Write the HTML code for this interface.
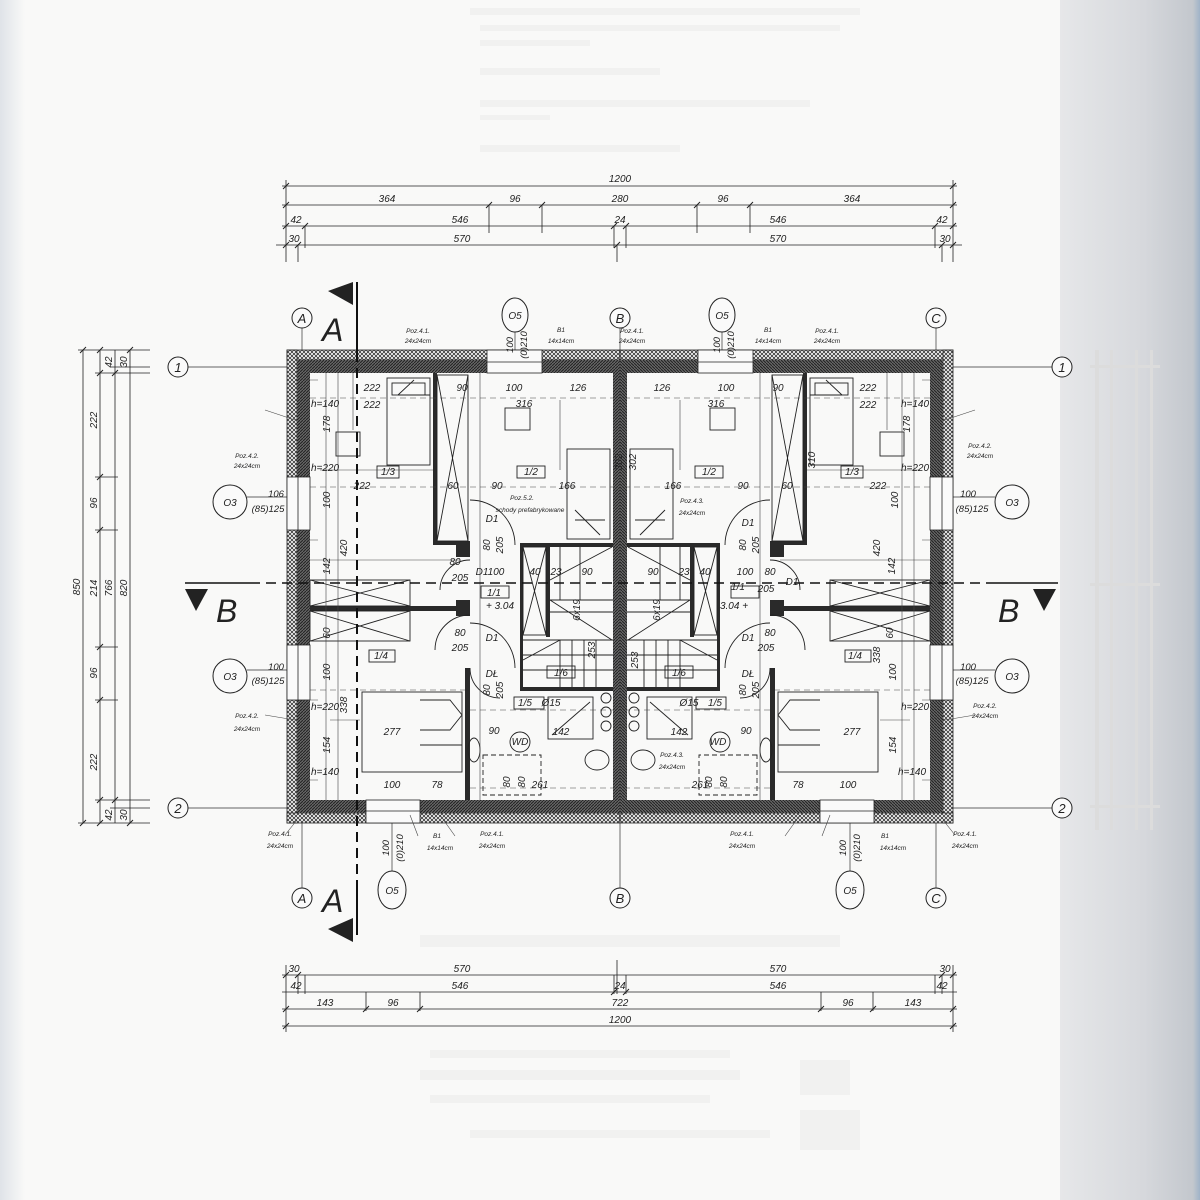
<!DOCTYPE html>
<html><head><meta charset="utf-8">
<style>
html,body{margin:0;padding:0;width:1200px;height:1200px;overflow:hidden;background:#f9f9f8;}
svg{display:block}
text{font-family:"Liberation Sans",sans-serif;font-style:italic;fill:#222}
</style></head><body>
<svg width="1200" height="1200" viewBox="0 0 1200 1200" xmlns="http://www.w3.org/2000/svg">
<defs>
<linearGradient id="side" x1="0" x2="1" y1="0" y2="0">
<stop offset="0" stop-color="#e6e7e9"/><stop offset="0.6" stop-color="#d6d8dc"/><stop offset="0.95" stop-color="#c3c7cd"/><stop offset="1" stop-color="#9fb3c8"/>
</linearGradient>
<linearGradient id="lside" x1="0" x2="1"><stop offset="0" stop-color="#dfe3e8"/><stop offset="1" stop-color="#f9f9f8"/></linearGradient>
<pattern id="ins" width="4" height="4" patternUnits="userSpaceOnUse">
<rect width="4" height="4" fill="#fff"/><path d="M0 0L4 4M4 0L0 4" stroke="#333" stroke-width="0.8"/>
</pattern>
<pattern id="mas" width="3" height="3" patternUnits="userSpaceOnUse">
<rect width="3" height="3" fill="#666"/><path d="M0 3L3 0" stroke="#222" stroke-width="1"/>
</pattern>
<g id="L">
 <rect x="287" y="350" width="333" height="10" fill="url(#ins)" stroke="#222" stroke-width="0.8"/>
 <rect x="287" y="350" width="10" height="473" fill="url(#ins)" stroke="#222" stroke-width="0.8"/>
 <rect x="287" y="813" width="333" height="10" fill="url(#ins)" stroke="#222" stroke-width="0.8"/>
 <rect x="297" y="360" width="323" height="13" fill="url(#mas)"/>
 <rect x="297" y="360" width="13" height="453" fill="url(#mas)"/>
 <rect x="297" y="800" width="323" height="13" fill="url(#mas)"/>
 <rect x="613" y="360" width="7" height="453" fill="url(#mas)"/>
 <rect x="487" y="350" width="55" height="23" fill="#fafafa" stroke="#222" stroke-width="0.8"/>
 <line x1="487" y1="362" x2="542" y2="362" stroke="#222" stroke-width="0.8"/>
 <rect x="366" y="800" width="54" height="23" fill="#fafafa" stroke="#222" stroke-width="0.8"/>
 <line x1="366" y1="811" x2="420" y2="811" stroke="#222" stroke-width="0.8"/>
 <rect x="287" y="477" width="23" height="53" fill="#fafafa" stroke="#222" stroke-width="0.8"/>
 <line x1="298" y1="477" x2="298" y2="530" stroke="#222" stroke-width="0.8"/>
 <rect x="287" y="645" width="23" height="55" fill="#fafafa" stroke="#222" stroke-width="0.8"/>
 <line x1="298" y1="645" x2="298" y2="700" stroke="#222" stroke-width="0.8"/>
 <g fill="#2a2a2a">
  <rect x="433" y="373" width="4" height="172"/>
  <rect x="433" y="541" width="37" height="4"/>
  <rect x="456" y="545" width="14" height="12"/>
  <rect x="310" y="606" width="155" height="5"/>
  <rect x="456" y="600" width="14" height="16"/>
  <rect x="465" y="668" width="5" height="132"/>
  <rect x="520" y="543" width="93" height="4"/>
  <rect x="546" y="547" width="4" height="90"/>
  <rect x="520" y="547" width="3" height="144"/>
  <rect x="520" y="687" width="93" height="4"/>
 </g>
 <g fill="none" stroke="#222" stroke-width="0.9">
  <rect x="437" y="375" width="31" height="166"/><path d="M437 375L468 541M468 375L437 541"/>
  <rect x="523" y="547" width="23" height="88"/><path d="M523 547L546 635M546 547L523 635"/>
  <rect x="310" y="580" width="100" height="26"/><path d="M310 580L410 606M410 580L310 606"/>
  <rect x="310" y="611" width="100" height="30"/><path d="M310 611L410 641M410 611L310 641"/>
  <path d="M550 600H613M550 612H613M523 640H613M523 655H613M523 670H613"/>
  <path d="M560 640V687M572 640V687M584 640V687M596 640V687M560 547V600M580 547V600"/>
  <path d="M550 580L612 547M550 600L612 640M523 660L560 640"/>
  <rect x="387" y="378" width="43" height="87"/><path d="M398 395L414 380M398 395H430"/>
  <rect x="392" y="383" width="33" height="12"/>
  <rect x="362" y="692" width="100" height="80"/><path d="M420 700L450 700L462 715L450 730L420 730M420 745H462"/>
  <rect x="336" y="432" width="24" height="24"/>
  <rect x="505" y="408" width="25" height="22"/>
  <rect x="567" y="449" width="43" height="90"/><path d="M575 510L600 535M575 520H605"/>
  <rect x="548" y="697" width="45" height="42"/><path d="M552 735L590 702"/>
  <ellipse cx="597" cy="760" rx="12" ry="10"/>
  <ellipse cx="474" cy="750" rx="6" ry="12"/>
  <circle cx="520" cy="742" r="10"/>
  <circle cx="606" cy="698" r="5"/><circle cx="606" cy="712" r="5"/><circle cx="606" cy="726" r="5"/>
  <rect x="483" y="755" width="58" height="40" stroke-dasharray="5 3"/>
  <path d="M470 500A45 45 0 0 1 515 545"/>
  <path d="M470 560A30 30 0 0 0 440 590"/>
  <path d="M470 615A35 35 0 0 0 435 650"/>
  <path d="M470 623A45 45 0 0 1 515 668"/>
  <path d="M470 668A30 30 0 0 0 500 698"/>
  <rect x="377" y="466" width="22" height="12"/>
  <rect x="517" y="466" width="28" height="12"/>
  <rect x="481" y="586" width="28" height="12"/>
  <rect x="369" y="650" width="26" height="12"/>
  <rect x="547" y="666" width="28" height="12"/>
  <rect x="514" y="697" width="30" height="12"/>
 </g>
 <g stroke="#444" stroke-width="0.6" fill="none">
  <path d="M310 398H613M310 487H613M310 690H465M470 710H613M470 788H613" stroke-dasharray="6 4"/>
  <path d="M310 560H460M326 373V800M338 373V800M353 373V430M480 373V800M560 400V470M320 470H433M330 720H360M304 380H318M304 540H318M304 700H318M304 780H318"/>
  <path d="M295 420L265 410M295 720L265 715M297 820L285 835M410 815L418 836M440 815L455 836"/>
 </g>
</g>
</defs>

<rect x="0" y="0" width="25" height="1200" fill="url(#lside)"/>
<rect x="1060" y="0" width="140" height="1200" fill="url(#side)"/>

<g fill="#f1f1f0">
 <rect x="470" y="8" width="390" height="7"/><rect x="480" y="25" width="360" height="6"/><rect x="480" y="40" width="110" height="6"/>
 <rect x="480" y="68" width="180" height="7"/><rect x="480" y="100" width="330" height="7"/><rect x="480" y="115" width="70" height="5"/>
 <rect x="480" y="145" width="200" height="7"/>
 <rect x="420" y="935" width="420" height="12"/><rect x="430" y="1050" width="300" height="8"/><rect x="420" y="1070" width="320" height="10"/>
 <rect x="430" y="1095" width="280" height="8"/><rect x="470" y="1130" width="300" height="8"/><rect x="800" y="1060" width="50" height="35"/>
 <rect x="800" y="1110" width="60" height="40"/>
</g>
<g fill="#dcdcdc"><rect x="1095" y="350" width="4" height="480"/><rect x="1110" y="350" width="3" height="480"/><rect x="1135" y="350" width="3" height="480"/><rect x="1150" y="350" width="3" height="480"/>
<rect x="1090" y="365" width="70" height="3"/><rect x="1090" y="805" width="70" height="3"/><rect x="1090" y="583" width="70" height="3"/></g>

<g stroke="#333" stroke-width="0.7" fill="none">
 <path d="M188 367H300M940 367H1052M188 808H300M940 808H1052"/>
 <path d="M302 328V370M620 328V370M936 328V370M302 823V888M620 823V888M936 823V888"/>
 <path d="M515 332V352M722 332V352M392 823V873M850 823V873"/>
 <path d="M247 497H287M247 670H287M953 497H995M953 670H995"/>
</g>
<g fill="#fafafa" stroke="#222" stroke-width="1">
 <circle cx="178" cy="367" r="10"/><circle cx="1062" cy="367" r="10"/>
 <circle cx="178" cy="808" r="10"/><circle cx="1062" cy="808" r="10"/>
 <circle cx="302" cy="318" r="10"/><circle cx="620" cy="318" r="10"/><circle cx="936" cy="318" r="10"/>
 <circle cx="302" cy="898" r="10"/><circle cx="620" cy="898" r="10"/><circle cx="936" cy="898" r="10"/>
 <ellipse cx="515" cy="315" rx="13" ry="17"/><ellipse cx="722" cy="315" rx="13" ry="17"/>
 <ellipse cx="392" cy="890" rx="14" ry="19"/><ellipse cx="850" cy="890" rx="14" ry="19"/>
 <circle cx="230" cy="502" r="17"/><circle cx="1012" cy="502" r="17"/>
 <circle cx="230" cy="676" r="17"/><circle cx="1012" cy="676" r="17"/>
</g>
<g font-size="13" text-anchor="middle" style="font-style:normal">
 <text x="178" y="372">1</text><text x="1062" y="372">1</text><text x="178" y="813">2</text><text x="1062" y="813">2</text>
 <text x="302" y="323">A</text><text x="620" y="323">B</text><text x="936" y="323">C</text>
 <text x="302" y="903">A</text><text x="620" y="903">B</text><text x="936" y="903">C</text>
</g>
<g font-size="10" text-anchor="middle">
 <text x="515" y="319">O5</text><text x="722" y="319">O5</text><text x="392" y="894">O5</text><text x="850" y="894">O5</text>
 <text x="230" y="506">O3</text><text x="1012" y="506">O3</text><text x="230" y="680">O3</text><text x="1012" y="680">O3</text>
</g>

<use href="#L"/>
<use href="#L" transform="translate(1240,0) scale(-1,1)"/>

<g stroke="#111" fill="none">
 <path d="M357 282V352" stroke-width="2"/><path d="M357 352V880" stroke-width="2" stroke-dasharray="10 6"/><path d="M357 880V935" stroke-width="2"/>
 <path d="M185 583H250" stroke-width="1.5"/><path d="M250 583H990" stroke-width="1.5" stroke-dasharray="10 6"/><path d="M990 583H1058" stroke-width="1.5"/>
</g>
<g fill="#222">
 <polygon points="328,291 353,282 353,305"/><polygon points="328,929 353,918 353,942"/>
 <polygon points="185,589 208,589 196,611"/><polygon points="1033,589 1056,589 1044,611"/>
</g>
<g font-size="32" style="font-style:italic">
 <text x="322" y="341">A</text><text x="322" y="912">A</text>
 <text x="216" y="622">B</text><text x="998" y="622">B</text>
</g>

<g stroke="#222" stroke-width="0.8" fill="none">
 <path d="M282 186H957M282 205H957M282 226H957M276 245H962"/>
 <path d="M286 180V262M953 180V262M489 205V233M542 205V233M697 205V233M750 205V233M305 226V248M614 226V248M626 226V248M935 226V248M617 245V262M298 245V262M942 245V262"/>
 <path d="M282 975H957M282 992H957M282 1009H957M282 1026H957"/>
 <path d="M286 965V1032M953 965V1032M298 975V994M942 975V994M305 975V994M935 975V994M614 975V994M626 975V994M617 960V994M366 992V1011M420 992V1011M821 992V1011M873 992V1011"/>
 <path d="M83 350V823M100 350V823M115 350V823M130 350V823M78 350H150M78 823H150M95 373H150M95 800H150M95 477H118M95 530H118M95 647H118M95 700H118M110 367H150M110 808H150"/>
</g>
<g stroke="#222" stroke-width="1">
 <path d="M283 189L289 183M950 189L956 183M486 208L492 202M539 208L545 202M694 208L700 202M747 208L753 202M283 208L289 202M950 208L956 202M302 229L308 223M611 229L617 223M623 229L629 223M932 229L938 223M283 229L289 223M950 229L956 223M295 248L301 242M614 248L620 242M939 248L945 242M283 248L289 242M950 248L956 242"/>
 <path d="M283 978L289 972M950 978L956 972M283 1029L289 1023M950 1029L956 1023M363 1012L369 1006M417 1012L423 1006M818 1012L824 1006M870 1012L876 1006M283 1012L289 1006M950 1012L956 1006M611 995L617 989M623 995L629 989M295 978L301 972M939 978L945 972"/>
 <path d="M80 353L86 347M80 826L86 820M97 353L103 347M97 826L103 820M97 376L103 370M97 480L103 474M97 533L103 527M97 650L103 644M97 703L103 697M97 803L103 797M112 376L118 370M112 803L118 797M127 353L133 347M127 826L133 820"/>
</g>
<g font-size="10" text-anchor="middle">
 <text x="620" y="182">1200</text>
 <text x="387" y="202">364</text><text x="515" y="202">96</text><text x="620" y="202">280</text><text x="723" y="202">96</text><text x="852" y="202">364</text>
 <text x="296" y="223">42</text><text x="460" y="223">546</text><text x="620" y="223">24</text><text x="778" y="223">546</text><text x="942" y="223">42</text>
 <text x="294" y="242">30</text><text x="462" y="242">570</text><text x="778" y="242">570</text><text x="945" y="242">30</text>
 <text x="294" y="972">30</text><text x="462" y="972">570</text><text x="778" y="972">570</text><text x="945" y="972">30</text>
 <text x="296" y="989">42</text><text x="460" y="989">546</text><text x="620" y="989">24</text><text x="778" y="989">546</text><text x="942" y="989">42</text>
 <text x="325" y="1006">143</text><text x="393" y="1006">96</text><text x="620" y="1006">722</text><text x="848" y="1006">96</text><text x="913" y="1006">143</text>
 <text x="620" y="1023">1200</text>
</g>
<g font-size="10" text-anchor="middle">
 <text transform="translate(80,587) rotate(-90)">850</text>
 <text transform="translate(97,420) rotate(-90)">222</text><text transform="translate(97,503) rotate(-90)">96</text>
 <text transform="translate(97,588) rotate(-90)">214</text><text transform="translate(97,673) rotate(-90)">96</text><text transform="translate(97,762) rotate(-90)">222</text>
 <text transform="translate(112,588) rotate(-90)">766</text><text transform="translate(127,588) rotate(-90)">820</text>
 <text transform="translate(112,362) rotate(-90)">42</text><text transform="translate(127,362) rotate(-90)">30</text>
 <text transform="translate(112,815) rotate(-90)">42</text><text transform="translate(127,815) rotate(-90)">30</text>
</g>

<g font-size="6.5" text-anchor="middle">
 <text x="418" y="333">Poz.4.1.</text><text x="418" y="343">24x24cm</text>
 <text x="632" y="333">Poz.4.1.</text><text x="632" y="343">24x24cm</text>
 <text x="827" y="333">Poz.4.1.</text><text x="827" y="343">24x24cm</text>
 <text x="561" y="332">B1</text><text x="561" y="343">14x14cm</text>
 <text x="768" y="332">B1</text><text x="768" y="343">14x14cm</text>
 <text x="247" y="458">Poz.4.2.</text><text x="247" y="468">24x24cm</text>
 <text x="247" y="718">Poz.4.2.</text><text x="247" y="731">24x24cm</text>
 <text x="980" y="448">Poz.4.2.</text><text x="980" y="458">24x24cm</text>
 <text x="985" y="708">Poz.4.2.</text><text x="985" y="718">24x24cm</text>
 <text x="280" y="836">Poz.4.1.</text><text x="280" y="848">24x24cm</text>
 <text x="492" y="836">Poz.4.1.</text><text x="492" y="848">24x24cm</text>
 <text x="742" y="836">Poz.4.1.</text><text x="742" y="848">24x24cm</text>
 <text x="965" y="836">Poz.4.1.</text><text x="965" y="848">24x24cm</text>
 <text x="437" y="838">B1</text><text x="440" y="850">14x14cm</text>
 <text x="885" y="838">B1</text><text x="893" y="850">14x14cm</text>
 <text x="522" y="500">Poz.5.2.</text><text x="530" y="512">schody prefabrykowane</text>
 <text x="692" y="503">Poz.4.3.</text><text x="692" y="515">24x24cm</text>
 <text x="672" y="757">Poz.4.3.</text><text x="672" y="769">24x24cm</text>
</g>
<g font-size="9.5" text-anchor="middle">
 <text transform="translate(513,345) rotate(-90)">100</text><text transform="translate(527,345) rotate(-90)">(0)210</text>
 <text transform="translate(720,345) rotate(-90)">100</text><text transform="translate(734,345) rotate(-90)">(0)210</text>
 <text transform="translate(389,848) rotate(-90)">100</text><text transform="translate(403,848) rotate(-90)">(0)210</text>
 <text transform="translate(846,848) rotate(-90)">100</text><text transform="translate(860,848) rotate(-90)">(0)210</text>
 <text x="276" y="497">106</text><text x="268" y="512">(85)125</text>
 <text x="276" y="670">100</text><text x="268" y="684">(85)125</text>
 <text x="968" y="497">100</text><text x="972" y="512">(85)125</text>
 <text x="968" y="670">100</text><text x="972" y="684">(85)125</text>
</g>
<g font-size="10" text-anchor="middle">
 <text x="372" y="391">222</text><text x="372" y="408">222</text><text x="462" y="391">90</text><text x="514" y="391">100</text><text x="578" y="391">126</text>
 <text x="524" y="407">316</text><text x="325" y="407">h=140</text><text x="325" y="471">h=220</text>
 <text x="388" y="475">1/3</text><text x="531" y="475">1/2</text>
 <text x="362" y="489">222</text><text x="453" y="489">60</text><text x="497" y="489">90</text><text x="567" y="489">166</text>
 <text x="492" y="522">D1</text><text x="492" y="641">D1</text><text x="492" y="677">DŁ</text>
 <text x="490" y="575">D1100</text><text x="494" y="596">1/1</text><text x="500" y="609">+ 3.04</text>
 <text x="455" y="565">80</text><text x="460" y="581">205</text><text x="460" y="636">80</text><text x="460" y="651">205</text>
 <text x="535" y="575">40</text><text x="556" y="575">23</text><text x="587" y="575">90</text>
 <text x="561" y="676">1/6</text><text x="525" y="706">1/5</text><text x="551" y="706">Ø15</text>
 <text x="494" y="734">90</text><text x="561" y="735">142</text><text x="520" y="745">WD</text>
 <text x="392" y="735">277</text><text x="381" y="659">1/4</text>
 <text x="325" y="710">h=220</text><text x="325" y="775">h=140</text>
 <text x="392" y="788">100</text><text x="437" y="788">78</text><text x="540" y="788">261</text>
 <text transform="translate(330,424) rotate(-90)">178</text><text transform="translate(330,500) rotate(-90)">100</text>
 <text transform="translate(347,548) rotate(-90)">420</text><text transform="translate(330,566) rotate(-90)">142</text>
 <text transform="translate(330,633) rotate(-90)">60</text><text transform="translate(330,672) rotate(-90)">100</text>
 <text transform="translate(347,705) rotate(-90)">338</text><text transform="translate(330,745) rotate(-90)">154</text>
 <text transform="translate(622,462) rotate(-90)">302</text><text transform="translate(580,610) rotate(-90)">6x19</text>
 <text transform="translate(595,650) rotate(-90)">253</text><text transform="translate(490,545) rotate(-90)">80</text><text transform="translate(503,545) rotate(-90)">205</text>
 <text transform="translate(490,690) rotate(-90)">80</text><text transform="translate(503,690) rotate(-90)">205</text>
 <text transform="translate(510,782) rotate(-90)">80</text><text transform="translate(525,782) rotate(-90)">80</text>
</g>
<g font-size="10" text-anchor="middle">
 <text x="868" y="391">222</text><text x="868" y="408">222</text><text x="778" y="391">90</text><text x="726" y="391">100</text><text x="662" y="391">126</text>
 <text x="716" y="407">316</text><text x="915" y="407">h=140</text><text x="915" y="471">h=220</text>
 <text x="852" y="475">1/3</text><text x="709" y="475">1/2</text>
 <text x="878" y="489">222</text><text x="787" y="489">60</text><text x="743" y="489">90</text><text x="673" y="489">166</text>
 <text x="748" y="526">D1</text><text x="748" y="641">D1</text><text x="748" y="677">DŁ</text>
 <text x="792" y="585">D1</text><text x="738" y="590">1/1</text><text x="734" y="609">3.04 +</text>
 <text x="745" y="575">100</text><text x="770" y="575">80</text><text x="766" y="592">205</text>
 <text x="770" y="636">80</text><text x="766" y="651">205</text>
 <text x="705" y="575">40</text><text x="684" y="575">23</text><text x="653" y="575">90</text>
 <text x="679" y="676">1/6</text><text x="715" y="706">1/5</text><text x="689" y="706">Ø15</text>
 <text x="746" y="734">90</text><text x="679" y="735">142</text><text x="718" y="745">WD</text>
 <text x="852" y="735">277</text><text x="855" y="659">1/4</text>
 <text x="915" y="710">h=220</text><text x="912" y="775">h=140</text>
 <text x="848" y="788">100</text><text x="798" y="788">78</text><text x="700" y="788">261</text>
 <text transform="translate(910,424) rotate(-90)">178</text><text transform="translate(898,500) rotate(-90)">100</text>
 <text transform="translate(880,548) rotate(-90)">420</text><text transform="translate(895,566) rotate(-90)">142</text>
 <text transform="translate(893,633) rotate(-90)">60</text><text transform="translate(896,672) rotate(-90)">100</text>
 <text transform="translate(880,655) rotate(-90)">338</text><text transform="translate(896,745) rotate(-90)">154</text>
 <text transform="translate(636,462) rotate(-90)">302</text><text transform="translate(660,610) rotate(-90)">6x19</text>
 <text transform="translate(638,660) rotate(-90)">253</text><text transform="translate(746,545) rotate(-90)">80</text><text transform="translate(759,545) rotate(-90)">205</text>
 <text transform="translate(746,690) rotate(-90)">80</text><text transform="translate(759,690) rotate(-90)">205</text>
 <text transform="translate(712,782) rotate(-90)">80</text><text transform="translate(727,782) rotate(-90)">80</text>
 <text transform="translate(815,460) rotate(-90)">310</text>
</g>
</svg>
</body></html>
